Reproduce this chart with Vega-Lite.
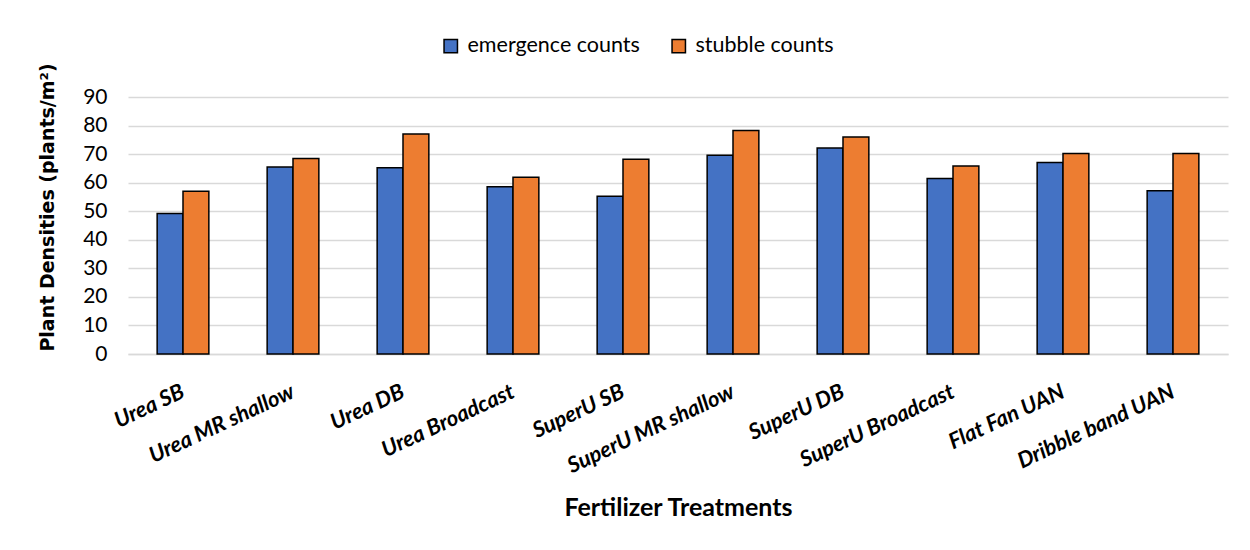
{
  "$schema": "https://vega.github.io/schema/vega-lite/v6.json",
  "autosize": "none",
  "width": 1100,
  "height": 257,
  "padding": {"left": 128, "top": 97, "right": 22, "bottom": 196},
  "background": "white",
  "data": {
    "values": [
      {"treatment": "Urea SB", "series": "emergence counts", "value": 49.2},
      {"treatment": "Urea SB", "series": "stubble counts", "value": 57.0},
      {"treatment": "Urea MR shallow", "series": "emergence counts", "value": 65.5},
      {"treatment": "Urea MR shallow", "series": "stubble counts", "value": 68.5},
      {"treatment": "Urea DB", "series": "emergence counts", "value": 65.2},
      {"treatment": "Urea DB", "series": "stubble counts", "value": 77.0},
      {"treatment": "Urea Broadcast", "series": "emergence counts", "value": 58.6},
      {"treatment": "Urea Broadcast", "series": "stubble counts", "value": 61.9},
      {"treatment": "SuperU SB", "series": "emergence counts", "value": 55.2},
      {"treatment": "SuperU SB", "series": "stubble counts", "value": 68.2},
      {"treatment": "SuperU MR shallow", "series": "emergence counts", "value": 69.6},
      {"treatment": "SuperU MR shallow", "series": "stubble counts", "value": 78.3},
      {"treatment": "SuperU DB", "series": "emergence counts", "value": 72.1},
      {"treatment": "SuperU DB", "series": "stubble counts", "value": 76.0},
      {"treatment": "SuperU Broadcast", "series": "emergence counts", "value": 61.5},
      {"treatment": "SuperU Broadcast", "series": "stubble counts", "value": 65.8},
      {"treatment": "Flat Fan UAN", "series": "emergence counts", "value": 67.1},
      {"treatment": "Flat Fan UAN", "series": "stubble counts", "value": 70.2},
      {"treatment": "Dribble band UAN", "series": "emergence counts", "value": 57.2},
      {"treatment": "Dribble band UAN", "series": "stubble counts", "value": 70.2}
    ]
  },
  "mark": {"type": "bar", "stroke": "black", "strokeWidth": 1.5},
  "encoding": {
    "x": {
      "field": "treatment",
      "type": "nominal",
      "sort": null,
      "scale": {"paddingInner": 0.53, "paddingOuter": 0.265},
      "axis": {
        "title": "Fertilizer Treatments",
        "titleFont": "Lato",
        "titleFontSize": 25,
        "titleFontWeight": "bold",
        "titleColor": "#000000",
        "titleBaseline": "middle",
        "titleY": 153,
        "labelFont": "Lato",
        "labelFontSize": 22,
        "labelFontWeight": "bold",
        "labelFontStyle": "italic",
        "labelColor": "#000000",
        "labelAngle": -25,
        "labelAlign": "right",
        "labelBaseline": "middle",
        "labelPadding": 36,
        "labelDx": 4,
        "labelLimit": 400,
        "labelOverlap": false,
        "labelBound": false,
        "ticks": false,
        "domain": true,
        "domainColor": "#d9d9d9",
        "domainWidth": 1.5,
        "grid": false
      }
    },
    "xOffset": {"field": "series", "type": "nominal", "scale": {"paddingInner": 0, "paddingOuter": 0}},
    "y": {
      "field": "value",
      "type": "quantitative",
      "scale": {"domain": [0, 90], "nice": false},
      "axis": {
        "title": "Plant Densities (plants/m²)",
        "titleFont": "DejaVu Sans",
        "titleFontSize": 19,
        "titleFontWeight": "bold",
        "titleColor": "#000000",
        "titlePadding": 25,
        "titleY": 110,
        "labelFont": "Lato",
        "labelFontSize": 21,
        "labelColor": "#000000",
        "labelPadding": 21,
        "values": [0, 10, 20, 30, 40, 50, 60, 70, 80, 90],
        "ticks": false,
        "domain": false,
        "grid": true,
        "gridColor": "#d9d9d9",
        "gridWidth": 1.5
      }
    },
    "color": {
      "field": "series",
      "type": "nominal",
      "scale": {"domain": ["emergence counts", "stubble counts"], "range": ["#4472C4", "#ED7D31"]},
      "legend": {
        "title": null,
        "orient": "none",
        "direction": "horizontal",
        "legendX": 312,
        "legendY": -62,
        "symbolType": "square",
        "symbolSize": 180,
        "symbolStrokeColor": "black",
        "symbolStrokeWidth": 1.5,
        "labelFont": "Lato",
        "labelFontSize": 21.5,
        "labelColor": "#000000",
        "labelOffset": 6,
        "labelLimit": 400,
        "columnPadding": 28
      }
    }
  },
  "config": {"view": {"stroke": null}}
}
